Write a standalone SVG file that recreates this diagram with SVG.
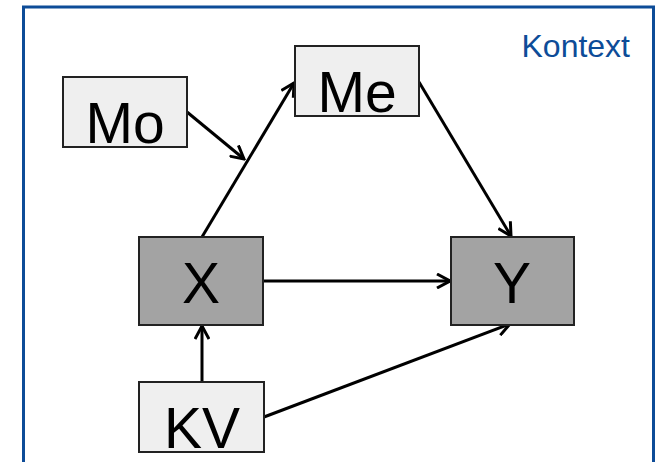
<svg xmlns="http://www.w3.org/2000/svg" width="666" height="462" viewBox="0 0 666 462">
<style>
.box{stroke:#222;stroke-width:2}
.light{fill:#efefef}
.dark{fill:#a3a3a3}
.lbl{font-family:"Liberation Sans",Arial,sans-serif;font-size:57px;fill:#000;text-anchor:middle}
.con{stroke:#000;stroke-width:3;fill:none;marker-end:url(#arr)}
</style>
<defs>
<marker id="arr" viewBox="-14 -8 16 16" markerWidth="16" markerHeight="16" refX="0" refY="0" orient="auto" markerUnits="userSpaceOnUse">
<path d="M-13,-7 L0,0 L-13,7" fill="none" stroke="#000" stroke-width="3" stroke-linejoin="miter"/>
</marker>
</defs>
<rect width="666" height="462" fill="#fff"/>
<path d="M23.5,462 V7 H653.5 V462" fill="none" stroke="#0d4c98" stroke-width="3"/>
<text x="630" y="57" font-family="'Liberation Sans',Arial,sans-serif" font-size="32" fill="#0d4c98" text-anchor="end">Kontext</text>
<g id="connectors">
<line class="con" x1="187" y1="112" x2="244" y2="159"/>
<line class="con" x1="202" y1="237" x2="294" y2="83"/>
<line class="con" x1="419" y1="82" x2="511" y2="236"/>
<line class="con" x1="263" y1="281" x2="450" y2="281"/>
<line class="con" x1="202" y1="382" x2="202" y2="326"/>
<line class="con" x1="264" y1="417" x2="510" y2="324"/>
</g>
<g id="Mo"><rect class="box light" x="63" y="77" width="124" height="70"/><text class="lbl" x="125" y="143">Mo</text></g>
<g id="Me"><rect class="box light" x="295" y="46" width="124" height="70"/><text class="lbl" x="357" y="112">Me</text></g>
<g id="X"><rect class="box dark" x="139" y="237" width="124" height="88"/><text class="lbl" x="201" y="303">X</text></g>
<g id="Y"><rect class="box dark" x="451" y="237" width="123" height="88"/><text class="lbl" x="512" y="303">Y</text></g>
<g id="KV"><rect class="box light" x="139" y="382" width="125" height="70"/><text class="lbl" x="202" y="448">KV</text></g>
</svg>
